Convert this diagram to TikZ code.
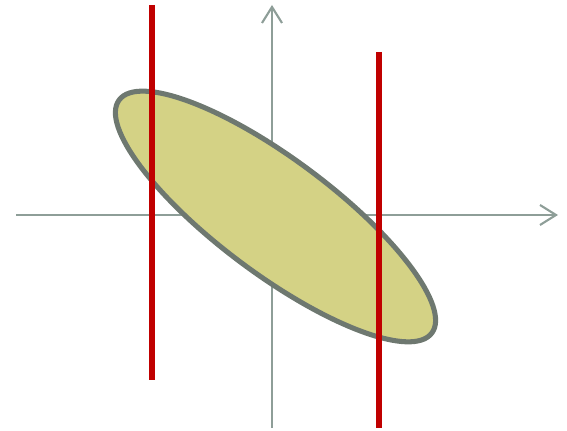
\documentclass[tikz,border=0pt]{standalone}
\usepackage{tikz}
\usetikzlibrary{arrows.meta}
\definecolor{axisgray}{HTML}{8E9E98}
\definecolor{blobfill}{HTML}{D4D285}
\definecolor{blobline}{HTML}{6E7870}
\definecolor{cutred}{HTML}{C00000}

\begin{document}
\begin{tikzpicture}[
  x=0.025cm, y=0.025cm,
  axis/.style={draw=axisgray, line width=1.5pt, -{Straight Barb[length=0.4cm, width=0.5cm, line width=1.5pt]}},
  cut/.style={draw=cutred, line width=3.6pt}
]
  \useasboundingbox (0,0) rectangle (567,431);
  % axes
  \coordinate (xl) at (16,216);
  \coordinate (xr) at (558,216);
  \coordinate (yb) at (272,3);
  \coordinate (yt) at (272,426);
  \draw[axis] (xl) -- (xr);
  \draw[axis] (yb) -- (yt);

  % region
  \coordinate (c) at (275.5,214.5);
  \draw[blobline, fill=blobfill, line width=3.6pt]
    (c) ellipse [x radius=195, y radius=57.5, rotate=-36.7];

  % cuts
  \coordinate (a1) at (152,426);
  \coordinate (a2) at (152,51);
  \coordinate (b1) at (379,379);
  \coordinate (b2) at (379,3);
  \draw[cut] (a1) -- (a2);
  \draw[cut] (b1) -- (b2);
\end{tikzpicture}
\end{document}
